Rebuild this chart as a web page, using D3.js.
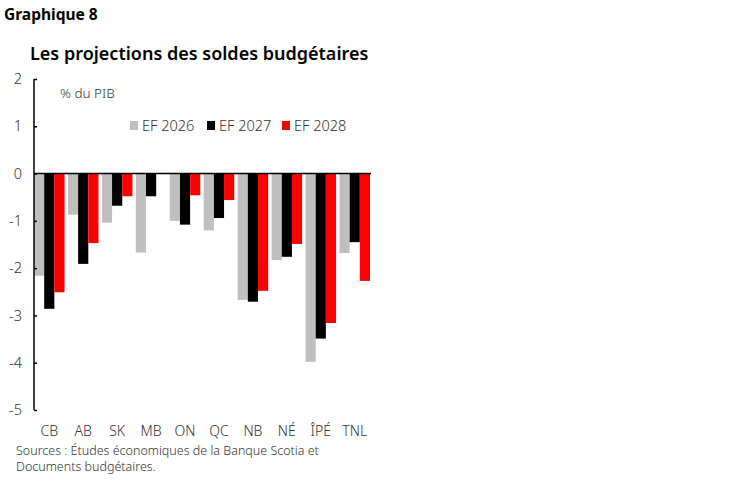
<!DOCTYPE html>
<html>
<head>
<meta charset="utf-8">
<script src="https://cdn.jsdelivr.net/npm/d3@7"></script>
<style>
  body { margin: 0; background: #fff; }
  svg { font-family: "Noto Sans", "Open Sans", sans-serif; }
</style>
</head>
<body>
<div id="chart"></div>
<script>
// données
const provinces = ['CB', 'AB', 'SK', 'MB', 'ON', 'QC', 'NB', 'NÉ', 'ÎPÉ', 'TNL'];
const series    = ['EF 2026', 'EF 2027', 'EF 2028'];
const ef2026    = [-2.16, -0.87, -1.04, -1.67, -1.00, -1.20, -2.67, -1.83, -3.98, -1.68];
const ef2027    = [-2.86, -1.91, -0.68, -0.48, -1.08, -0.94, -2.71, -1.76, -3.49, -1.45];
const ef2028    = [-2.51, -1.47, -0.48,  0.00, -0.46, -0.56, -2.48, -1.49, -3.16, -2.27];
const yTicks    = [2, 1, 0, -1, -2, -3, -4, -5];
const colors    = ['#bfbfbf', '#000000', '#ff0000'];

const W = 749, H = 482;
const svg = d3.select('#chart').append('svg')
  .attr('width', W).attr('height', H);

const x0 = d3.scaleBand(provinces, [34, 370]).paddingInner(0.1).paddingOuter(0);
const x1 = d3.scaleBand(series, [0, x0.bandwidth()]).padding(0);
const y  = d3.scaleLinear([-5, 2], [410, 79]);

// titres
svg.append('text').attr('x', 4).attr('y', 20)
   .attr('font-size', 15.5).attr('font-weight', 700).attr('fill', '#000')
   .text('Graphique 8');
svg.append('text').attr('x', 30).attr('y', 60)
   .attr('font-size', 18).attr('font-weight', 600).attr('fill', '#000')
   .text('Les projections des soldes budgétaires');

// barres
const table = provinces.map((p, i) => ({ p, vals: [ef2026[i], ef2027[i], ef2028[i]] }));
const groups = svg.append('g').selectAll('g').data(table).join('g')
  .attr('transform', d => `translate(${x0(d.p)},0)`);
groups.selectAll('rect')
  .data(d => d.vals.map((v, k) => ({ s: series[k], v, k })))
  .join('rect')
    .attr('x', d => x1(d.s))
    .attr('y', d => Math.min(y(0), y(d.v)))
    .attr('width', x1.bandwidth())
    .attr('height', d => Math.abs(y(d.v) - y(0)))
    .attr('fill', d => colors[d.k]);

// axe des y
const yAxis = svg.append('g').attr('transform', 'translate(34,0)')
  .call(d3.axisLeft(y).tickValues(yTicks).tickSize(-3).tickPadding(12)
          .tickFormat(d => d3.format('d')(d).replace('−', '-')));
yAxis.select('.domain').attr('stroke', '#000').attr('stroke-width', 1.5)
  .attr('d', `M0,${y(2)}V${y(-5)}`);
yAxis.selectAll('.tick line').attr('stroke', '#000').attr('stroke-width', 1.5);
yAxis.selectAll('text').attr('font-size', 14.5).attr('fill', '#333')
  .attr('font-family', '"Noto Sans", sans-serif').attr('font-weight', 300);

// ligne zéro
svg.append('line').attr('x1', 34).attr('x2', 371)
  .attr('y1', y(0)).attr('y2', y(0)).attr('stroke', '#000').attr('stroke-width', 1.5);

// étiquettes des catégories
svg.append('g').selectAll('text').data(provinces).join('text')
  .attr('x', d => x0(d) + x0.bandwidth() / 2)
  .attr('y', 436)
  .attr('text-anchor', 'middle')
  .attr('font-size', 14).attr('font-weight', 300).attr('fill', '#333')
  .text(d => d);

// unité
svg.append('text').attr('x', 60).attr('y', 98)
  .attr('font-size', 13.5).attr('font-weight', 300).attr('fill', '#333')
  .text('% du PIB');

// légende
const legX = [130, 207, 282];
const leg = svg.append('g').selectAll('g').data(series).join('g')
  .attr('transform', (d, i) => `translate(${legX[i]},0)`);
leg.append('rect').attr('x', 0).attr('y', 121).attr('width', 8).attr('height', 9)
  .attr('fill', (d, i) => colors[i]);
leg.append('text').attr('x', 12).attr('y', 131)
  .attr('font-size', 14.5).attr('font-weight', 300).attr('fill', '#333')
  .text(d => d);

// sources
const src = svg.append('text').attr('font-size', 12.5).attr('font-weight', 300).attr('fill', '#333');
src.append('tspan').attr('x', 16).attr('y', 455)
  .text('Sources : Études économiques de la Banque Scotia et');
src.append('tspan').attr('x', 16).attr('y', 471)
  .text('Documents budgétaires.');
</script>
</body>
</html>
